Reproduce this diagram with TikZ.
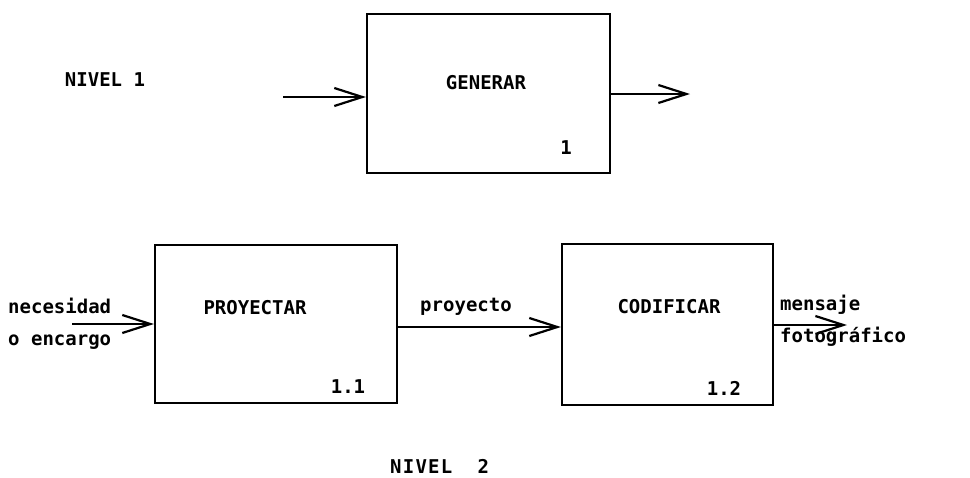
\documentclass[tikz,border=0pt]{standalone}
\usepackage{fontspec}
\setmainfont{DejaVu Sans Mono}
\newfontfamily\widemono[LetterSpace=6.5]{DejaVu Sans Mono}
\usetikzlibrary{arrows.meta}
\begin{document}
\begin{tikzpicture}[x=1pt,y=-1pt,
  box/.style={draw, line width=2.2pt, rectangle, inner sep=0pt},
  lbl/.style={font=\fontsize{19}{23}\selectfont\bfseries, inner sep=0pt},
  flow/.style={line width=2.2pt, -{Straight Barb[length=28pt,width=18pt,line width=2.2pt]}}]
\useasboundingbox (0,0) rectangle (970,477);

% level 1
\node[lbl] (n1) at (105,80) {NIVEL 1};
\node[box, minimum width=243pt, minimum height=159pt] (gen) at (488.5,93.5) {};
\node[lbl] (gent) at (486,83) {GENERAR};
\node[lbl] (genn) at (566,148) {1};
\coordinate (gin) at (283,97);
\coordinate (gout) at (690,94);
\draw[flow] (gin) -- (gin -| gen.west);
\draw[flow] (gout -| gen.east) -- (gout);

% level 2
\node[box, minimum width=242pt, minimum height=158pt] (pro) at (276,324) {};
\node[lbl] (prot) at (255,308) {PROYECTAR};
\node[lbl] (pron) at (348,387) {1.1};
\node[box, minimum width=211pt, minimum height=161pt] (cod) at (667.5,324.5) {};
\node[lbl] (codt) at (669,307) {CODIFICAR};
\node[lbl] (codn) at (724,388) {1.2};

\node[lbl, anchor=west] (nec) at (8,306) {necesidad};
\node[lbl, anchor=west] (enc) at (8,342) {o encargo};
\coordinate (pin) at (72,324);
\draw[flow] (pin) -- (pin -| pro.west);

\coordinate (mid) at (0,327);
\draw[flow] (mid -| pro.east) -- (mid -| cod.west);
\node[lbl] (proy) at (466,307) {proyecto};

\node[lbl, anchor=west] (men) at (780,305) {mensaje};
\node[lbl, anchor=west] (fot) at (780,337) {fotográfico};
\coordinate (cout) at (847,325);
\draw[flow] (cout -| cod.east) -- (cout);

\node[lbl, font=\fontsize{19}{23}\widemono\bfseries, anchor=west] (n2) at (390,466) {NIVEL\ \ 2};
\end{tikzpicture}
\end{document}
